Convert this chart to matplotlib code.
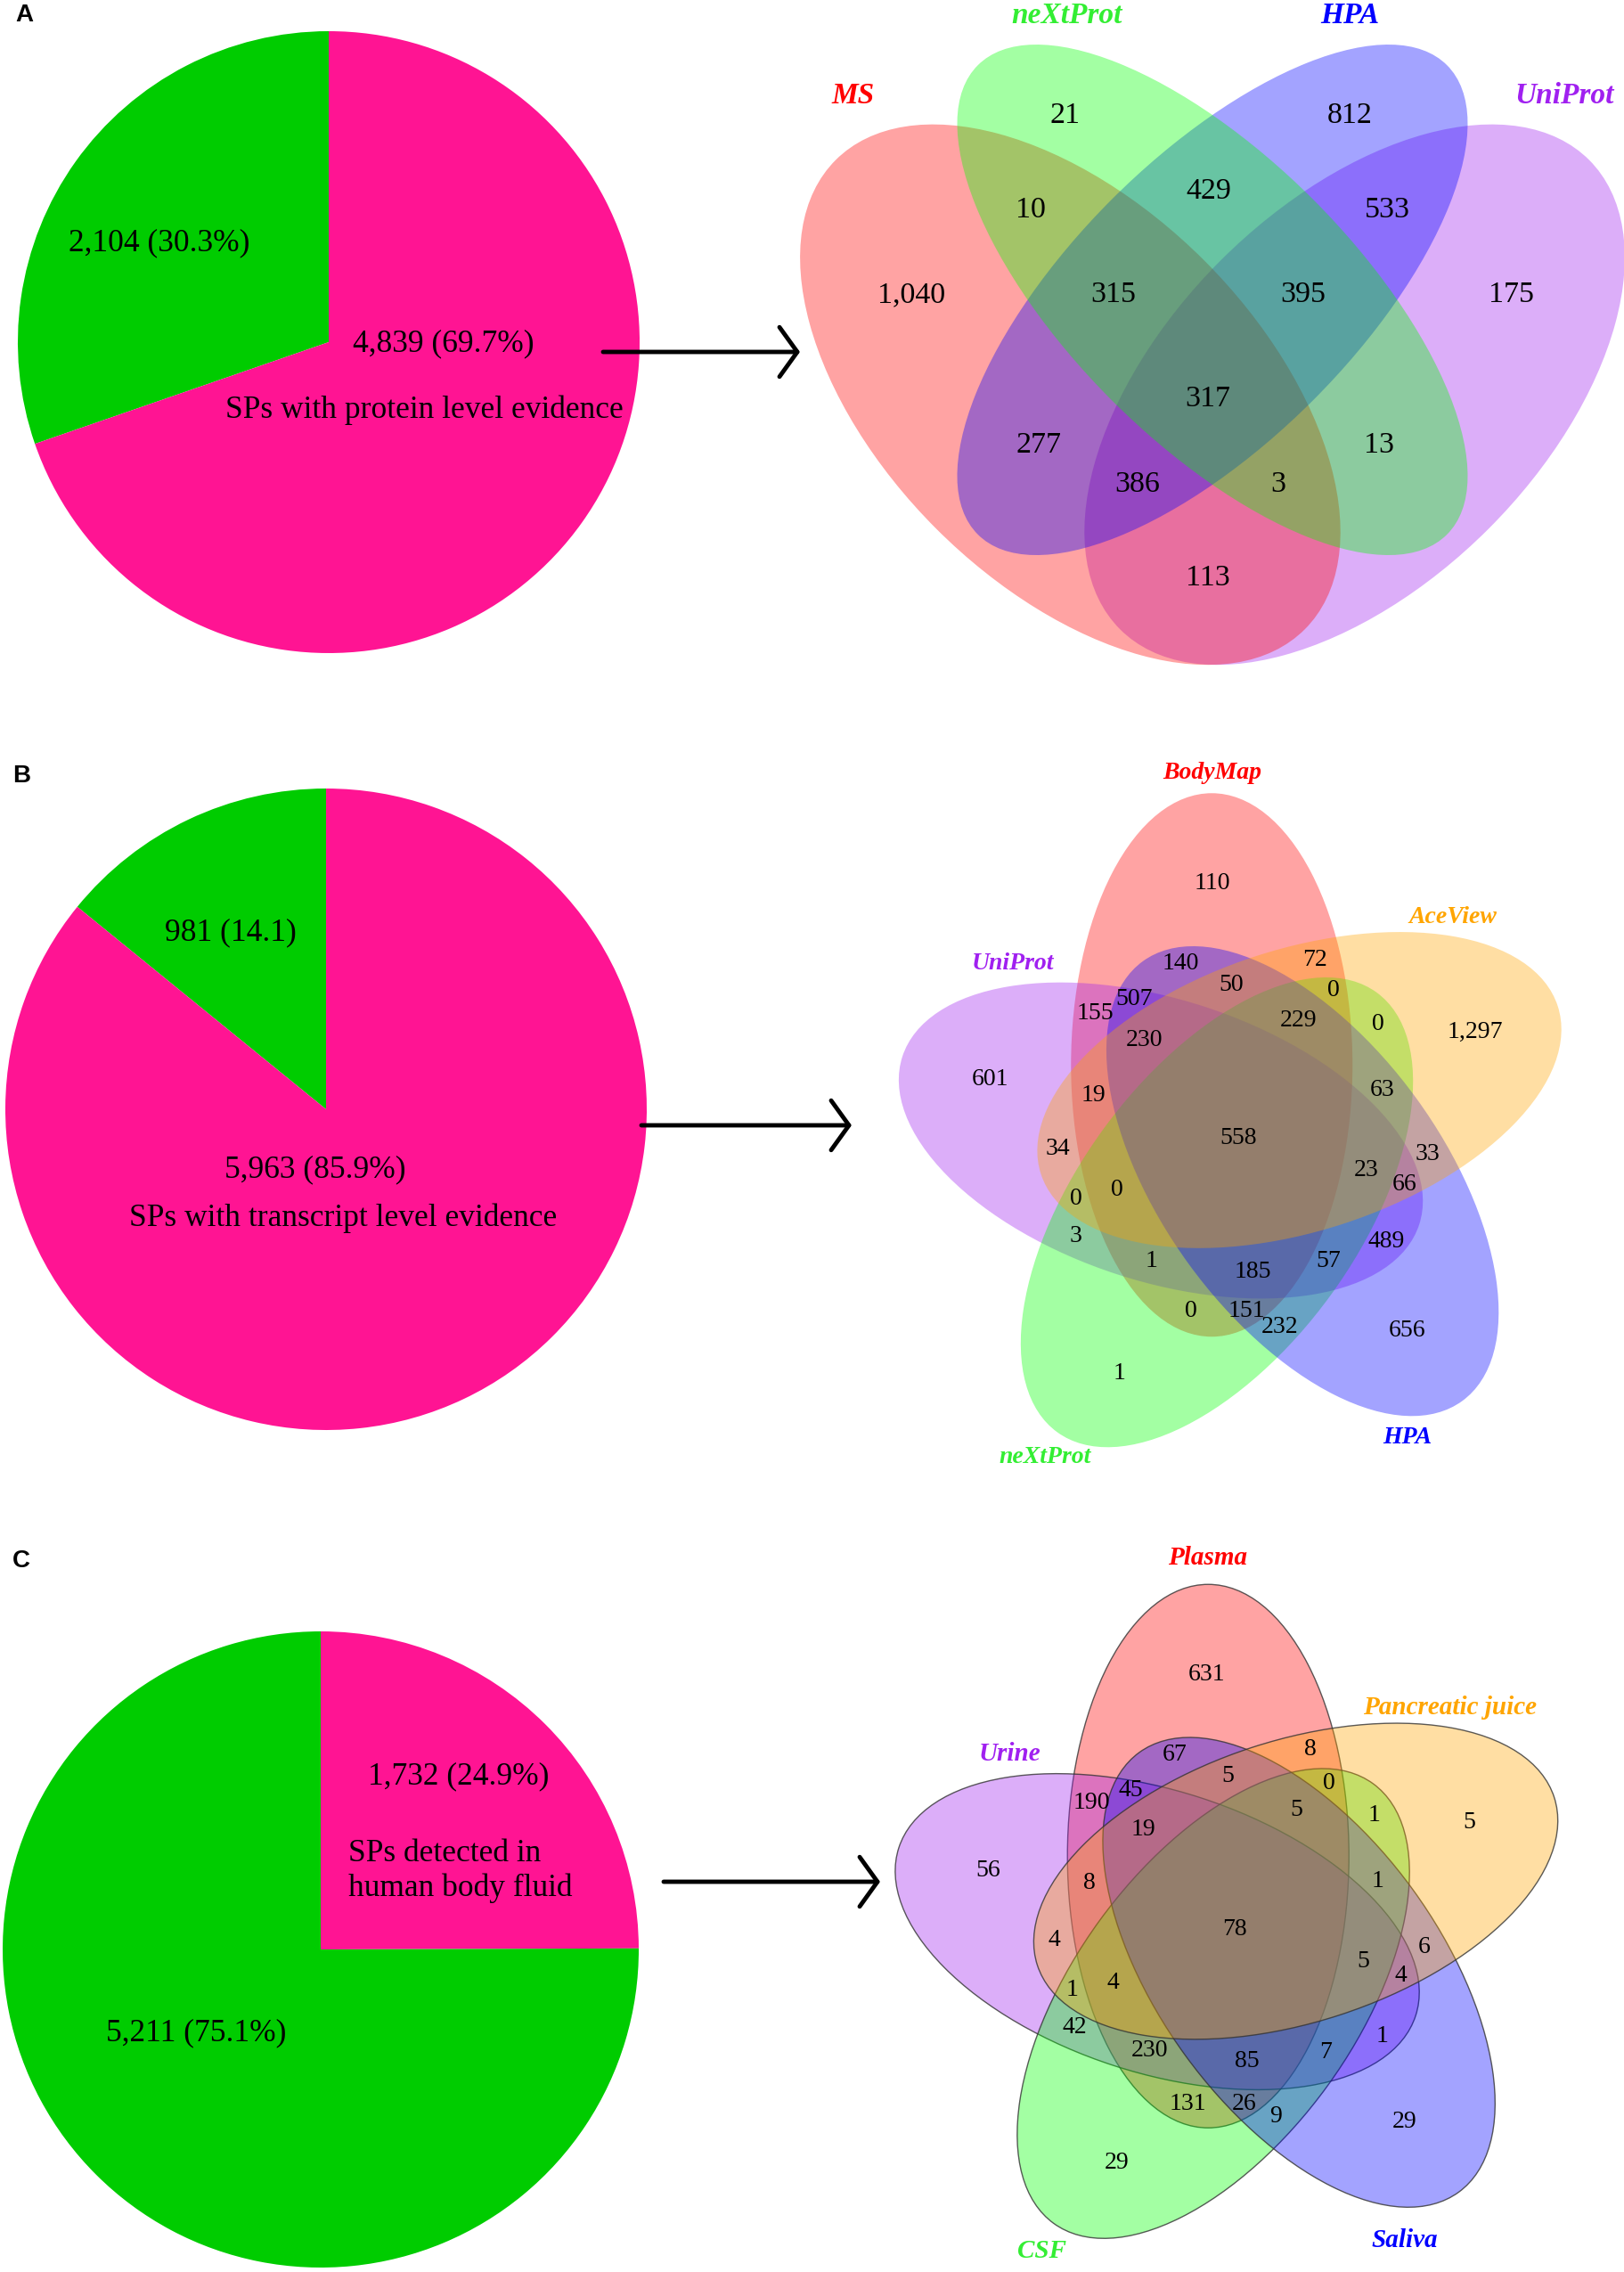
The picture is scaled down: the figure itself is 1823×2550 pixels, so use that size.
import matplotlib
matplotlib.use("Agg")
import matplotlib.pyplot as plt
from matplotlib.patches import Ellipse, FancyArrowPatch
from matplotlib.colors import to_rgba
import numpy as np

plt.rcParams['font.family'] = ['Liberation Serif', 'DejaVu Serif']

# ---- pie data ----
pie_a_values = [2104, 4839]
pie_a_labels = ["2,104 (30.3%)", "4,839 (69.7%)"]
pie_a_caption = "SPs with protein level evidence"

pie_b_values = [981, 5963]
pie_b_labels = ["981 (14.1)", "5,963 (85.9%)"]
pie_b_caption = "SPs with transcript level evidence"

pie_c_values = [1732, 5211]
pie_c_labels = ["1,732 (24.9%)", "5,211 (75.1%)"]
pie_c_caption = "SPs detected in\nhuman body fluid"

# ---- venn data (region counts) ----
venn_a_sets = ["MS", "neXtProt", "HPA", "UniProt"]
venn_a_counts = [21, 812, 429, 10, 533, 1040, 315, 395, 175, 317, 277, 13, 386, 3, 113]

venn_b_sets = ["BodyMap", "AceView", "HPA", "neXtProt", "UniProt"]
venn_b_counts = [110, 72, 140, 50, 0, 507, 155, 229, 0, 1297, 230, 601, 19, 63, 558,
                 34, 33, 23, 66, 0, 0, 3, 489, 57, 1, 185, 0, 151, 232, 656, 1]

venn_c_sets = ["Plasma", "Pancreatic juice", "Saliva", "CSF", "Urine"]
venn_c_counts = [631, 8, 67, 5, 0, 45, 190, 5, 1, 5, 19, 56, 8, 1, 78,
                 4, 6, 5, 4, 4, 1, 42, 1, 230, 7, 85, 131, 26, 9, 29, 29]

# ---- layout (pixel coordinates) ----
venn_a_pos = [(1196, 130), (1515, 130), (1357, 215), (1157, 236), (1557, 236),
              (1023, 331), (1250, 331), (1463, 331), (1697, 331), (1356, 448),
              (1166, 500), (1548, 500), (1277, 544), (1435, 544), (1356, 649)]
venn_a_label_pos = [(958, 107), (1198, 17), (1515, 17), (1756, 107)]

venn_b_pos = [(1361, 992), (1476, 1077), (1325, 1082), (1382, 1106), (1497, 1112),
              (1273, 1122), (1229, 1137), (1458, 1145), (1547, 1149), (1656, 1158),
              (1285, 1167), (1112, 1211), (1227, 1229), (1552, 1223), (1390, 1277),
              (1187, 1290), (1602, 1296), (1534, 1313), (1577, 1329), (1254, 1335),
              (1208, 1346), (1208, 1387), (1556, 1394), (1491, 1415), (1293, 1415),
              (1406, 1427), (1337, 1471), (1399, 1471), (1437, 1489), (1580, 1494),
              (1257, 1541)]
venn_b_label_pos = [(1361, 867), (1631, 1029), (1580, 1614), (1173, 1635), (1137, 1082)]

venn_c_pos = [(1355, 1880), (1471, 1964), (1319, 1970), (1378, 1993), (1492, 2001),
              (1269, 2009), (1225, 2023), (1455, 2032), (1543, 2038), (1649, 2046),
              (1283, 2054), (1109, 2100), (1223, 2114), (1547, 2112), (1386, 2165),
              (1183, 2178), (1599, 2186), (1530, 2201), (1572, 2218), (1249, 2226),
              (1204, 2234), (1206, 2276), (1552, 2285), (1291, 2302), (1488, 2304),
              (1400, 2314), (1333, 2361), (1397, 2361), (1432, 2376), (1577, 2382),
              (1254, 2428)]
venn_c_label_pos = [(1356, 1749), (1628, 1917), (1577, 2514), (1170, 2527), (1133, 1969)]

W, H = 1824, 2550
PINK = "#FF1493"
GREEN = "#00CC00"
FOUR_COLORS = ["red", "#00FF00", "blue", "#A020F0"]
FOUR_TEXT = ["#FF0000", "#33EE33", "#0000FF", "#A020F0"]
FOUR_ORDER = [3, 0, 2, 1]          # stacking order of the fills
FIVE_COLORS = ["red", "#FFA500", "blue", "#00FF00", "#A020F0"]
FIVE_TEXT = ["#FF0000", "#FFA500", "#0000FF", "#33EE33", "#A020F0"]
FIVE_ORDER = [0, 4, 3, 2, 1]
FILL_ALPHA = 0.36

fig = plt.figure(figsize=(W / 100, H / 100), dpi=100)


def pie_axes(cx, cy, r):
    return fig.add_axes([(cx - r) / W, 1 - (cy + r) / H, 2 * r / W, 2 * r / H])


def draw_pie(cx, cy, r, values, colors, counterclock):
    pax = pie_axes(cx, cy, r)
    pax.pie(values, colors=colors, startangle=90, counterclock=counterclock,
            wedgeprops=dict(linewidth=0))
    pax.set_xlim(-1, 1)
    pax.set_ylim(-1, 1)
    pax.set_aspect('auto')
    pax.axis('off')


# ----- pies -----
draw_pie(369, 384, 349, pie_a_values, [GREEN, PINK], True)
draw_pie(366, 1245, 360, pie_b_values, [GREEN, PINK], True)
draw_pie(360, 2188, 357, pie_c_values, [PINK, GREEN], False)

# overlay axes in pixel coordinates
ax = fig.add_axes([0, 0, 1, 1])
ax.set_xlim(0, W)
ax.set_ylim(H, 0)
ax.axis('off')

pie_fs = 25.5
ax.text(179, 273, pie_a_labels[0], fontsize=pie_fs, ha='center', va='center')
ax.text(498, 386, pie_a_labels[1], fontsize=pie_fs, ha='center', va='center')
ax.text(476, 460, pie_a_caption, fontsize=pie_fs, ha='center', va='center')

ax.text(259, 1047, pie_b_labels[0], fontsize=pie_fs, ha='center', va='center')
ax.text(354, 1313, pie_b_labels[1], fontsize=pie_fs, ha='center', va='center')
ax.text(385, 1367, pie_b_caption, fontsize=pie_fs, ha='center', va='center')

ax.text(515, 1994, pie_c_labels[0], fontsize=pie_fs, ha='center', va='center')
ax.text(391, 2100, pie_c_caption, fontsize=pie_fs, ha='left', va='center',
        linespacing=1.25)
ax.text(220, 2282, pie_c_labels[1], fontsize=pie_fs, ha='center', va='center')

# panel letters
for letter, (lx, ly) in zip("ABC", [(27, 17), (24, 871), (24, 1752)]):
    ax.text(lx, ly, letter, fontsize=20, fontweight='bold', family='Liberation Sans',
            ha='center', va='center')

# arrows
for x0, x1, y in [(677, 898, 395), (720, 956, 1263), (745, 988, 2112)]:
    ax.add_patch(FancyArrowPatch((x0, y), (x1, y),
                                 arrowstyle='->,head_length=0.72,head_width=1.0',
                                 mutation_scale=20, lw=3.5, color='black',
                                 shrinkA=0, shrinkB=0))

# ----- 4-set venn (A) -----
ux0, uy0, us = 829, 943, 1064
four_geom = [((0.35, 0.47), 0.35, 0.20, 45), ((0.5, 0.57), 0.35, 0.15, 45),
             ((0.5, 0.57), 0.35, 0.15, -45), ((0.65, 0.47), 0.35, 0.20, -45)]
for k in FOUR_ORDER:
    (c, a, b, ang), col = four_geom[k], FOUR_COLORS[k]
    ex, ey = ux0 + us * c[0], uy0 - us * c[1]
    ax.add_patch(Ellipse((ex, ey), 2 * a * us, 2 * b * us, angle=ang,
                         fc=to_rgba(col, FILL_ALPHA), ec='none'))
for n, (px, py) in zip(venn_a_counts, venn_a_pos):
    ax.text(px, py, f"{n:,}", fontsize=24.5, ha='center', va='center')
for name, (px, py), col in zip(venn_a_sets, venn_a_label_pos, FOUR_TEXT):
    ax.text(px, py, name, fontsize=24, fontweight='bold', style='italic',
            color=col, ha='center', va='center')


# ----- 5-set venns (B, C) -----
def five_venn(cx, cy, counts, pos, names, name_pos, name_fs, edge):
    for k in FIVE_ORDER:
        col = FIVE_COLORS[k]
        phi = np.radians(110 - 72 * k)
        theta = 90 - 72 * k
        ex = cx + 87 * np.cos(phi)
        ey = cy - 87 * np.sin(phi)
        ax.add_patch(Ellipse((ex, ey), 610, 316, angle=-theta,
                             fc=to_rgba(col, FILL_ALPHA),
                             ec=edge if edge else 'none', lw=1.0))
    for n, (px, py) in zip(counts, pos):
        ax.text(px, py, f"{n:,}", fontsize=20, ha='center', va='center')
    for name, (px, py), col in zip(names, name_pos, FIVE_TEXT):
        ax.text(px, py, name, fontsize=name_fs, fontweight='bold', style='italic',
                color=col, ha='center', va='center')


five_venn(1390, 1277, venn_b_counts, venn_b_pos, venn_b_sets, venn_b_label_pos, 20, None)
five_venn(1386, 2165, venn_c_counts, venn_c_pos, venn_c_sets, venn_c_label_pos, 21,
          (0.2, 0.2, 0.2, 0.8))

fig.savefig("out.png", dpi=100)
